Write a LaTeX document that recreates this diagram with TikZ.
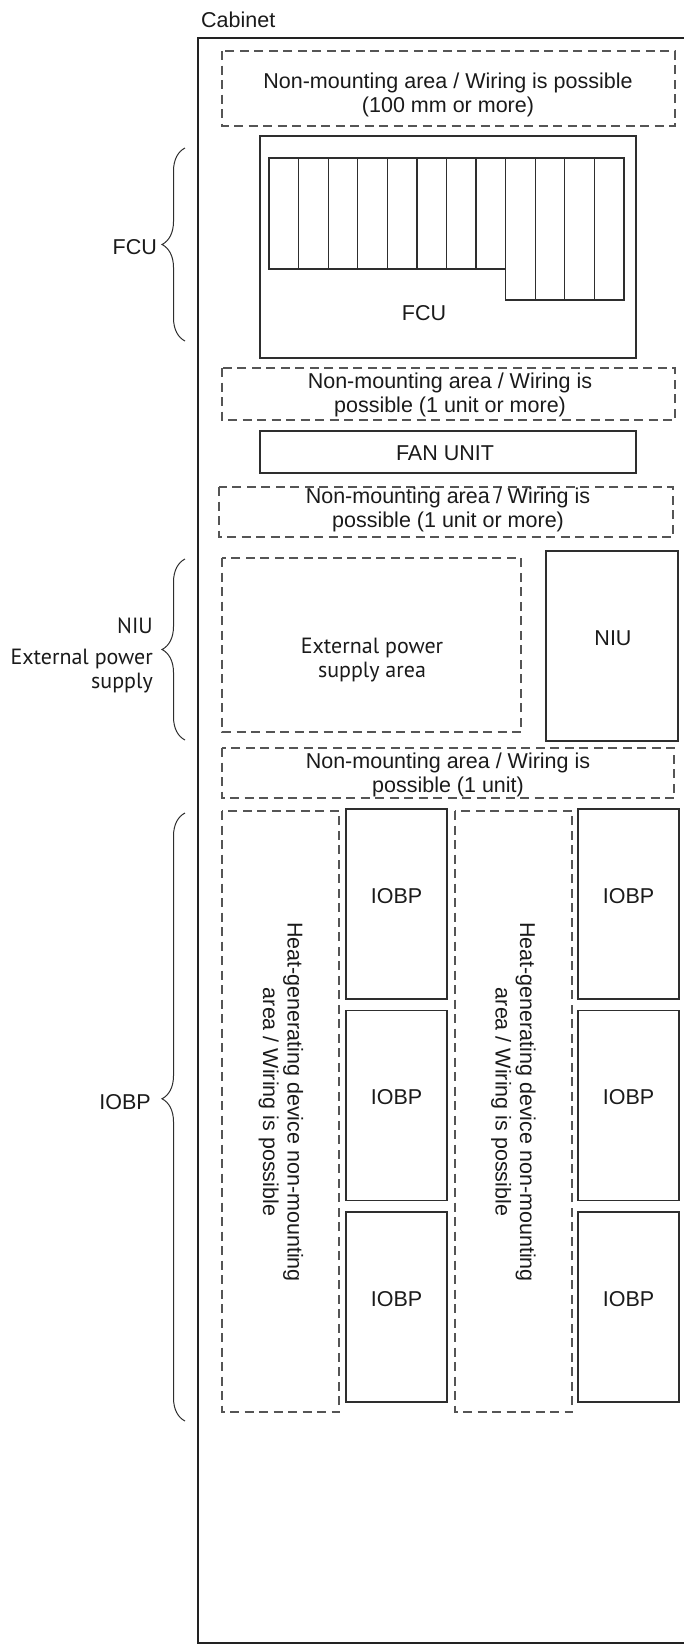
\documentclass[tikz,border=0pt]{standalone}
\usepackage{fontspec}
\setmainfont{Liberation Sans}
\newfontfamily\humanist{PT Sans}
\usetikzlibrary{decorations.pathreplacing}
\definecolor{framec}{HTML}{222222}
\definecolor{boxc}{HTML}{2E2E2E}
\definecolor{dashc}{HTML}{555555}
\definecolor{textc}{HTML}{1A1A1A}

\tikzset{
  solidbox/.style={draw=boxc, line width=1.3pt},
  freezone/.style={draw=dashc, line width=1.3pt, dash pattern=on 9pt off 5.5pt},
  lbl/.style={text=textc, font=\fontsize{21.5}{24.5}\selectfont, inner sep=0pt, align=center},
  softlbl/.style={lbl, font=\humanist\fontsize{22}{24}\selectfont},
  curly/.style={draw=boxc, line width=1pt, decorate, decoration={brace, amplitude=23pt, aspect=#1}},
  curly/.default=0.5,
}

\begin{document}
\begin{tikzpicture}[x=1pt, y=-1pt]
  \useasboundingbox (0,0) rectangle (684,1644);
  % cabinet
  \draw[framec, line width=2pt] (685,38) -- (198,38) -- (198,1642.5) -- (685,1642.5);
  \node[lbl, anchor=base west] (cablbl) at (201,27) {Cabinet};

  % upper part
  \draw[freezone] (222,51) rectangle (675,126);
  \node[lbl] (zonetop) at (448,95) {Non-mounting area / Wiring is possible\\(100 mm or more)};
  \draw[solidbox] (260,136) rectangle (636,358);
  \foreach \i in {0,...,7}
    \draw[solidbox] (269+\i*29.58,158) rectangle +(29.58,111);
  \foreach \i in {8,...,11}
    \draw[solidbox] (269+\i*29.58,158) rectangle +(29.58,142);
  \node[lbl] (fcu) at (424,313) {FCU};
  \draw[freezone] (222,368) rectangle (675,420);
  \node[lbl] (zonefcu) at (450,395) {Non-mounting area / Wiring is\\possible (1 unit or more)};
  \draw[solidbox] (260,431) rectangle (636,473);
  \node[lbl] (fan) at (445,453) {FAN UNIT};
  \draw[freezone] (219,487) rectangle (673,537);
  \node[lbl] (zonefan) at (448,510) {Non-mounting area / Wiring is\\possible (1 unit or more)};

  % NIU and external power
  \draw[freezone] (222,558) rectangle (521,732);
  \node[softlbl] (extarea) at (372,660) {External power\\supply area};
  \draw[solidbox] (546,551) rectangle (678,741);
  \node[lbl] (niu) at (613,638) {NIU};
  \draw[freezone] (222,748) rectangle (674,798);
  \node[lbl] (zoneniu) at (448,775) {Non-mounting area / Wiring is\\possible (1 unit)};

  % IOBP columns
  \foreach \c/\h in {222/281,455/513.5} {
    \draw[freezone] (\c,811) rectangle +(117,601);
    \node[lbl, rotate=-90] (heat\c) at (\h,1102) {Heat-generating device non-mounting\\area / Wiring is possible};
  }
  \foreach \c in {346,578}
    \foreach \r in {0,1,2} {
      \draw[solidbox] (\c,809+\r*201.5) rectangle +(101,190);
      \node[lbl] (iobp\c\r) at (\c+50.5,896+\r*201.5) {IOBP};
    }

  % braces on the left
  \coordinate (fcutop) at (185,148);
  \coordinate (fcubot) at (185,341);
  \coordinate (niutop) at (185,559);
  \coordinate (niubot) at (185,740);
  \coordinate (iobptop) at (185,813);
  \coordinate (iobpbot) at (185,1421);
  \draw[curly] (fcubot) -- (fcutop);
  \draw[curly] (niubot) -- (niutop);
  \draw[curly=0.53] (iobpbot) -- (iobptop);
  \node[lbl, anchor=east] (fcutag) at (157,247) {FCU};
  \node[softlbl, anchor=east] (niutag) at (153,626) {NIU};
  \node[softlbl, anchor=east, align=right] (exttag) at (153,671) {External power\\supply};
  \node[lbl, anchor=east] (iobptag) at (151,1102) {IOBP};
\end{tikzpicture}
\end{document}
